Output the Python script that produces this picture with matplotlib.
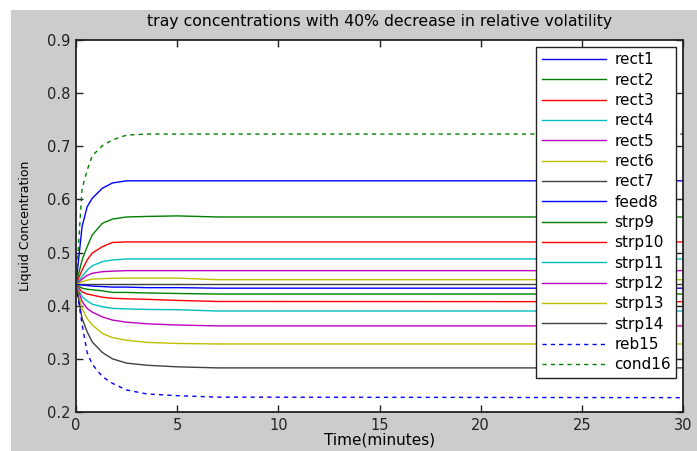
import matplotlib
matplotlib.use('Agg')
import matplotlib.pyplot as plt
from matplotlib.patches import Rectangle

plt.rcParams['font.family'] = ['DejaVu Sans']

# time grid (minutes)
t = [0, 0.3, 0.55, 0.8, 1.3, 1.8, 2.5, 3.5, 5, 7, 30]

rect1 = [0.44, 0.549, 0.586, 0.602, 0.621, 0.631, 0.635, 0.635, 0.635, 0.635, 0.635]
rect2 = [0.44, 0.486, 0.511, 0.533, 0.555, 0.563, 0.567, 0.568, 0.569, 0.567, 0.567]
rect3 = [0.44, 0.467, 0.486, 0.499, 0.511, 0.519, 0.520, 0.520, 0.520, 0.520, 0.520]
rect4 = [0.44, 0.455, 0.467, 0.475, 0.483, 0.486, 0.488, 0.488, 0.488, 0.488, 0.488]
rect5 = [0.44, 0.450, 0.457, 0.461, 0.464, 0.465, 0.466, 0.466, 0.466, 0.466, 0.466]
rect6 = [0.44, 0.445, 0.448, 0.450, 0.451, 0.4515, 0.452, 0.452, 0.452, 0.449, 0.449]
rect7 = [0.44, 0.44, 0.44, 0.44, 0.44, 0.44, 0.44, 0.44, 0.44, 0.44, 0.44]
feed8 = [0.44, 0.439, 0.438, 0.437, 0.436, 0.435, 0.435, 0.434, 0.434, 0.433, 0.433]
strp9 = [0.44, 0.433, 0.431, 0.430, 0.428, 0.425, 0.425, 0.424, 0.423, 0.422, 0.422]
strp10 = [0.44, 0.426, 0.422, 0.420, 0.416, 0.414, 0.413, 0.412, 0.410, 0.408, 0.4075]
strp11 = [0.44, 0.417, 0.409, 0.403, 0.398, 0.395, 0.394, 0.393, 0.3925, 0.390, 0.390]
strp12 = [0.44, 0.408, 0.395, 0.388, 0.379, 0.373, 0.369, 0.366, 0.3637, 0.362, 0.362]
strp13 = [0.44, 0.395, 0.376, 0.364, 0.348, 0.340, 0.335, 0.331, 0.329, 0.328, 0.328]
strp14 = [0.44, 0.376, 0.351, 0.332, 0.312, 0.300, 0.292, 0.288, 0.285, 0.283, 0.283]
reb15 = [0.44, 0.365, 0.312, 0.290, 0.2666, 0.254, 0.2414, 0.234, 0.2307, 0.228, 0.227]
cond16 = [0.44, 0.62, 0.655, 0.682, 0.701, 0.712, 0.721, 0.723, 0.723, 0.723, 0.723]

names = ['rect1', 'rect2', 'rect3', 'rect4', 'rect5', 'rect6', 'rect7', 'feed8',
         'strp9', 'strp10', 'strp11', 'strp12', 'strp13', 'strp14', 'reb15', 'cond16']
series = [rect1, rect2, rect3, rect4, rect5, rect6, rect7, feed8,
          strp9, strp10, strp11, strp12, strp13, strp14, reb15, cond16]

# matlab style colour cycle
cyc = [(0, 0, 1), (0, 0.5, 0), (1, 0, 0), (0, 0.75, 0.75), (0.75, 0, 0.75),
       (0.75, 0.75, 0), (0.25, 0.25, 0.25)]

fig = plt.figure(figsize=(6.97, 4.51), dpi=100, facecolor='white')
fig.patches.append(Rectangle((11 / 697, 0), 1, 441 / 451, transform=fig.transFigure,
                             facecolor='#cccccc', edgecolor='none', zorder=-10))
ax = fig.add_axes([76 / 697, 1 - 412 / 451, (683 - 76) / 697, (412 - 40) / 451])

for i, (nm, y) in enumerate(zip(names, series)):
    if i >= 14:
        ax.plot(t, y, color=cyc[i % 7], linestyle='--', dashes=(3, 3), linewidth=1.0, label=nm)
    else:
        ax.plot(t, y, color=cyc[i % 7], linewidth=1.0, label=nm)

ax.set_xlim(0, 30)
ax.set_ylim(0.2, 0.9)
ax.set_xticks(range(0, 31, 5))
ax.set_yticks([0.2, 0.3, 0.4, 0.5, 0.6, 0.7, 0.8, 0.9])
ax.set_yticklabels(['0.2', '0.3', '0.4', '0.5', '0.6', '0.7', '0.8', '0.9'])
ax.tick_params(direction='in', top=True, right=True, labelsize=10.5, length=5, width=1,
               colors='#222222', pad=4)
for s in ax.spines.values():
    s.set_color('#222222')
    s.set_linewidth(1.3)

ax.set_title('tray concentrations with 40% decrease in relative volatility', fontsize=11.3, pad=10)
ax.set_xlabel('Time(minutes)', fontsize=11, labelpad=0)
ax.set_ylabel('Liquid Concentration', fontsize=9, labelpad=11)

leg = ax.legend(loc='upper right', fontsize=11, handlelength=4.2, handletextpad=0.55,
                labelspacing=0.35, borderpad=0.35, borderaxespad=0.45, fancybox=False,
                framealpha=1)
leg.get_frame().set_edgecolor('#222222')
leg.get_frame().set_linewidth(1.0)

fig.savefig('out.png', dpi=100, facecolor=fig.get_facecolor())
